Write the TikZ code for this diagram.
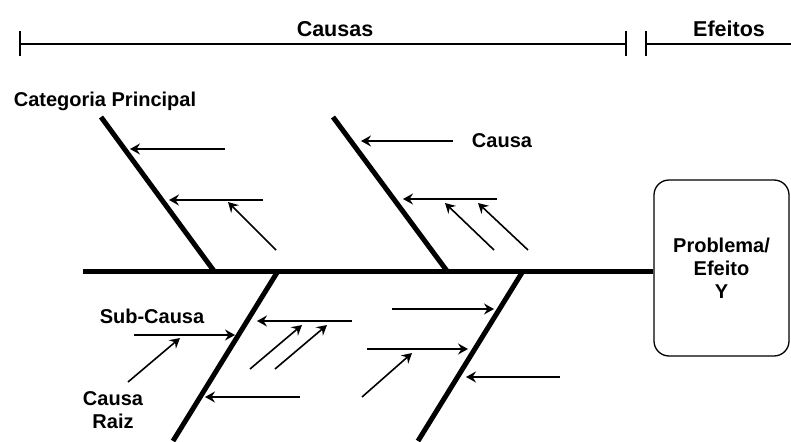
\documentclass[tikz,border=0pt]{standalone}
\usepackage{fontspec}
\setmainfont{Liberation Sans}
\usetikzlibrary{arrows.meta}

\begin{document}
\begin{tikzpicture}[x=1pt,y=-1pt,
    bone/.style={line width=5pt},
    cause/.style={line width=1.6pt,-{Stealth[length=10pt,width=11pt,inset=3.5pt]}},
    lbl/.style={font=\bfseries\fontsize{20}{23}\selectfont,inner sep=0pt,align=center},
    head/.style={font=\bfseries\fontsize{21.5}{24}\selectfont,inner sep=0pt},
    rule/.style={line width=1.3pt}]
  \useasboundingbox (0,0) rectangle (791,441);

  % ruler
  \coordinate (cl) at (20,44);
  \coordinate (cr) at (626,44);
  \coordinate (el) at (646,44);
  \coordinate (er) at (791,44);
  \draw[rule] (cl) -- (cr);
  \draw[rule] (el) -- (er);
  \foreach \c in {cl,cr,el}
    \draw[rule] ([yshift=-12pt]\c) -- ([yshift=13pt]\c);
  \node[head] (causas) at (335,29) {Causas};
  \node[head] (efeitos) at (729,29) {Efeitos};

  % effect box and spine
  \node[draw,line width=1.3pt,rounded corners=15pt,minimum width=135pt,
    minimum height=176pt,lbl] (efeito) at (721.5,268) {Problema/\\Efeito\\Y};
  \coordinate (tail) at (83,271);
  \draw[bone] (tail) -- (efeito.west |- tail);

  % bones
  \coordinate (b1a) at (101,117);  \coordinate (b1b) at (214,271);
  \coordinate (b2a) at (333,117);  \coordinate (b2b) at (447,271);
  \coordinate (b3a) at (278,271);  \coordinate (b3b) at (173,441);
  \coordinate (b4a) at (523,271);  \coordinate (b4b) at (418,441);
  \foreach \b in {1,...,4}
    \draw[bone] (b\b a) -- (b\b b);

  % causes
  \foreach \i/\tx/\ty/\hx/\hy in {
      1/225/149/130/149, 2/263/200/169/200, 3/276/250/228/202,
      4/453/141/361/141, 5/497/199/403/199, 6/494/250/445/203,
      7/528/250/478/203, 8/134/335/235/335, 9/128/382/180/338,
      10/352/321/257/321, 11/250/369/302/325, 12/275/369/327/325,
      13/300/397/205/397, 14/392/309/494/309, 15/367/349/468/349,
      16/362/397/412/353, 17/560/377/466/377} {
    \coordinate (t\i) at (\tx,\ty);
    \coordinate (h\i) at (\hx,\hy);
    \draw[cause] (t\i) -- (h\i);
  }

  % labels
  \node[lbl] (categoria) at (105,101) {Categoria Principal};
  \node[lbl] (causa) at (502,141) {Causa};
  \node[lbl] (subcausa) at (152,316) {Sub-Causa};
  \node[lbl] (raiz) at (113,410) {Causa\\Raiz};
\end{tikzpicture}
\end{document}
